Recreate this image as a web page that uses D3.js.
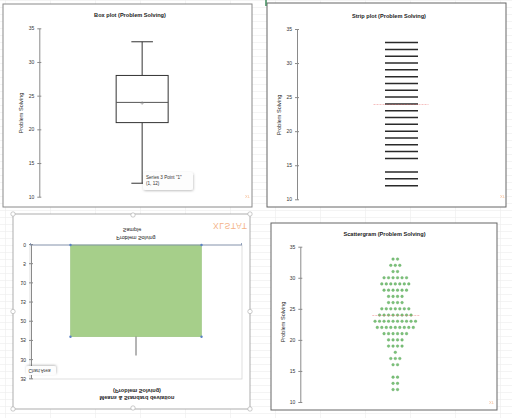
<!DOCTYPE html>
<html><head><meta charset="utf-8">
<script src="https://cdn.jsdelivr.net/npm/d3@7"></script>
<style>body{margin:0;background:#fff}svg{display:block;font-family:"Liberation Sans",Arial,sans-serif}</style>
</head><body><svg id="c" width="512" height="418"></svg>
<script>
// ---------- data ----------
const category = ["Problem Solving"];
const yTicks = [10, 15, 20, 25, 30, 35];
const meanTicks = [0, 5, 10, 15, 20, 25, 30, 35];
const boxKeys = ["min", "q1", "median", "q3", "max"];
const boxValues = [12, 21, 24, 28, 33];
const meanValue = [23.9];
const sdValue = [4.9];
const stripValues = [12, 13, 14, 16, 17, 18, 19, 20, 21, 22, 23, 24, 25, 26, 27, 28, 29, 30, 31, 32, 33];
const scatterValues = [33, 32, 31, 30, 29, 28, 27, 26, 25, 24, 23, 22, 21, 20, 19, 18, 17, 16, 14, 13, 12];
const scatterCounts = [2, 3, 2, 6, 7, 6, 4, 4, 7, 8, 10, 9, 6, 4, 4, 1, 3, 2, 2, 2, 2];

const svg = d3.select("#c");
const defs = svg.append("defs");
const f = defs.append("filter").attr("id", "sh").attr("x", "-20%").attr("y", "-20%").attr("width", "150%").attr("height", "180%");
f.append("feDropShadow").attr("dx", 0.5).attr("dy", 1).attr("stdDeviation", 1.2).attr("flood-color", "#000").attr("flood-opacity", 0.25);

// faint spreadsheet grid
const grid = svg.append("g").attr("stroke", "#ececec").attr("stroke-width", 0.6);
d3.range(0, 418, 7).forEach(y => grid.append("line").attr("x1", 0).attr("x2", 512).attr("y1", y + 0.5).attr("y2", y + 0.5));
d3.range(0, 512, 45).forEach(x => grid.append("line").attr("y1", 0).attr("y2", 418).attr("x1", x + 5.5).attr("x2", x + 5.5));

function frame(x, y, w, h, stroke) {
  svg.append("rect").attr("x", x).attr("y", y).attr("width", w).attr("height", h)
    .attr("fill", "#fff").attr("stroke", stroke || "#8a8a8a").attr("stroke-width", 1);
}
function title(g, x, y, t) {
  g.append("text").attr("x", x).attr("y", y).attr("text-anchor", "middle").attr("dominant-baseline", "central")
    .attr("font-size", 5.6).attr("font-weight", "bold").attr("fill", "#222").text(t);
}
function yAxis(g, scale, x, ticks) {
  const a = g.append("g").attr("transform", `translate(${x},0)`)
    .call(d3.axisLeft(scale).tickValues(ticks).tickSizeInner(2).tickSizeOuter(0).tickPadding(3));
  a.select(".domain").attr("stroke", "#8a8a8a").attr("stroke-width", 1);
  a.selectAll(".tick line").attr("stroke", "#8a8a8a").attr("x2", 2).attr("x1", -2);
  a.selectAll(".tick text").attr("font-size", 5).attr("fill", "#333").attr("font-family", "Liberation Sans, Arial, sans-serif");
  return a;
}
function yTitle(g, x, y, t) {
  g.append("text").attr("transform", `translate(${x},${y}) rotate(-90)`).attr("text-anchor", "middle")
    .attr("dominant-baseline", "central").attr("font-size", 5.6).attr("fill", "#222").text(t);
}
function logo(g, x, y) {
  g.append("text").attr("x", x).attr("y", y).attr("font-size", 4).attr("fill", "#f3a46c").attr("opacity", 0.8).text("XL");
}

// ---------- panel 1 : box plot ----------
frame(3, 4, 249, 203);
const g1 = svg.append("g");
const y1 = d3.scaleLinear().domain([10, 35]).range([196.7, 28.3]);
const x1 = d3.scalePoint().domain(category).range([39.3, 245]).padding(0.5);
title(g1, 130, 15, "Box plot (Problem Solving)");
yAxis(g1, y1, 39.3, yTicks);
yTitle(g1, 21, 113, "Problem Solving");
const bv = Object.fromEntries(boxKeys.map((k, i) => [k, boxValues[i]]));
const cx1 = x1(category[0]), bw = 52, cw = 21.6;
const bx = g1.append("g").attr("stroke", "#333").attr("stroke-width", 1).attr("fill", "none");
bx.append("line").attr("x1", cx1).attr("x2", cx1).attr("y1", y1(bv.max)).attr("y2", y1(bv.q3));
bx.append("line").attr("x1", cx1).attr("x2", cx1).attr("y1", y1(bv.q1)).attr("y2", y1(bv.min));
bx.append("line").attr("x1", cx1 - cw / 2).attr("x2", cx1 + cw / 2).attr("y1", y1(bv.max)).attr("y2", y1(bv.max));
bx.append("line").attr("x1", cx1 - cw / 2).attr("x2", cx1 + cw / 2).attr("y1", y1(bv.min)).attr("y2", y1(bv.min));
bx.append("rect").attr("x", cx1 - bw / 2).attr("y", y1(bv.q3)).attr("width", bw).attr("height", y1(bv.q1) - y1(bv.q3)).attr("fill", "#fff");
bx.append("line").attr("x1", cx1 - bw / 2).attr("x2", cx1 + bw / 2).attr("y1", y1(bv.median)).attr("y2", y1(bv.median)).attr("stroke", "#555");
const my = y1(meanValue[0]);
g1.append("path").attr("d", `M${cx1 - 1.8},${my}H${cx1 + 1.8}M${cx1},${my - 1.8}V${my + 1.8}`).attr("stroke", "#888").attr("stroke-width", 0.6);
// tooltip
g1.append("rect").attr("x", 143).attr("y", 172).attr("width", 50).attr("height", 18).attr("rx", 2.5)
  .attr("fill", "#fdfdfd").attr("filter", "url(#sh)");
g1.append("text").attr("x", 146).attr("y", 178.5).attr("font-size", 4.6).attr("fill", "#333").text("Series 3 Point \"1\"");
g1.append("text").attr("x", 146).attr("y", 185).attr("font-size", 4.6).attr("fill", "#333").text("(1, 12)");
logo(g1, 245, 198);

// ---------- panel 2 : strip plot ----------
frame(267, 3, 239, 204, "#666");
svg.append("line").attr("x1", 266).attr("x2", 266).attr("y1", 0).attr("y2", 6).attr("stroke", "#3c8a5a").attr("stroke-width", 1.5);
const g2 = svg.append("g");
const y2 = d3.scaleLinear().domain([10, 35]).range([199.3, 29]);
const x2 = d3.scalePoint().domain(category).range([297, 506]).padding(0.5);
title(g2, 389, 16, "Strip plot (Problem Solving)");
yAxis(g2, y2, 297, yTicks);
yTitle(g2, 279, 115, "Problem Solving");
const cx2 = x2(category[0]), sw = 33;
g2.selectAll("line.s").data(stripValues).join("line").attr("class", "s")
  .attr("x1", cx2 - sw / 2).attr("x2", cx2 + sw / 2).attr("y1", d => y2(d)).attr("y2", d => y2(d))
  .attr("stroke", "#2a2a2a").attr("stroke-width", 1.5);
g2.append("line").attr("x1", cx2 - 28).attr("x2", cx2 + 27).attr("y1", y2(meanValue[0])).attr("y2", y2(meanValue[0]))
  .attr("stroke", "#e86a6a").attr("stroke-width", 0.6).attr("stroke-dasharray", "2,1").attr("opacity", 0.8);
logo(g2, 500, 198);

// ---------- panel 3 : means & sd (vertically mirrored) ----------
const g3 = svg.append("g").attr("transform", "translate(0,623) scale(1,-1)");
g3.append("rect").attr("x", 13).attr("y", 214).attr("width", 237).attr("height", 195).attr("fill", "#fff").attr("stroke", "#9a9a9a").attr("stroke-width", 0.8);
g3.append("rect").attr("x", 30).attr("y", 244).attr("width", 212).attr("height", 134).attr("fill", "none").attr("stroke", "#d6d6d6").attr("stroke-width", 0.8);
const y3 = d3.scaleLinear().domain([0, 35]).range([378, 243.7]);
const x3 = d3.scaleBand().domain(category).range([30, 242]).paddingInner(0).paddingOuter(0.309);
const a3 = yAxis(g3, y3, 31, meanTicks);
a3.selectAll(".tick text").attr("dominant-baseline", "central").attr("dy", null);
g3.append("text").attr("x", 137).attr("y", 224.7).attr("text-anchor", "middle").attr("dominant-baseline", "central")
  .attr("font-size", 5.6).attr("font-weight", "bold").attr("fill", "#222").text("Means & Standard deviation");
g3.append("text").attr("x", 137).attr("y", 231.7).attr("text-anchor", "middle").attr("dominant-baseline", "central")
  .attr("font-size", 5.6).attr("font-weight", "bold").attr("fill", "#222").text("(Problem Solving)");
g3.append("rect").attr("x", x3(category[0])).attr("y", y3(meanValue[0])).attr("width", x3.bandwidth())
  .attr("height", y3(0) - y3(meanValue[0])).attr("fill", "#a6cf8a").attr("stroke", "#8fbd75").attr("stroke-width", 0.5);
const cx3 = x3(category[0]) + x3.bandwidth() / 2;
g3.append("line").attr("x1", cx3).attr("x2", cx3).attr("y1", y3(meanValue[0])).attr("y2", y3(meanValue[0] + sdValue[0]))
  .attr("stroke", "#444").attr("stroke-width", 0.8);
// category axis at 0
g3.append("line").attr("x1", 30).attr("x2", 242).attr("y1", y3(0)).attr("y2", y3(0)).attr("stroke", "#7d8fae").attr("stroke-width", 0.8);
[30.5, 241.5].forEach(x => g3.append("line").attr("x1", x).attr("x2", x).attr("y1", y3(0)).attr("y2", y3(0) + 2).attr("stroke", "#7d8fae").attr("stroke-width", 0.8));
g3.append("text").attr("x", 136).attr("y", 385).attr("text-anchor", "middle").attr("dominant-baseline", "central")
  .attr("font-size", 5.4).attr("fill", "#222").text(category[0]);
g3.append("text").attr("x", 132).attr("y", 393.3).attr("text-anchor", "middle").attr("dominant-baseline", "central")
  .attr("font-size", 5.4).attr("fill", "#222").text("Sample");
// series selection handles
const bx0 = x3(category[0]), bx1 = bx0 + x3.bandwidth();
[[bx0, y3(0)], [bx1, y3(0)], [bx0, y3(meanValue[0])], [bx1, y3(meanValue[0])]].forEach(([x, y]) =>
  g3.append("circle").attr("cx", x).attr("cy", y).attr("r", 1.2).attr("fill", "#5b82c4"));
// chart area handles
[[13, 214], [133, 215], [250, 214], [13, 311.5], [250, 311.5], [13, 409], [133, 408], [250, 409]].forEach(([x, y]) =>
  g3.append("circle").attr("cx", x).attr("cy", y).attr("r", 2.2).attr("fill", "#fff").attr("stroke", "#aaa").attr("stroke-width", 0.6));
// tooltip & watermark
g3.append("rect").attr("x", 26).attr("y", 248).attr("width", 30).attr("height", 9).attr("rx", 2).attr("fill", "#fdfdfd").attr("filter", "url(#sh)");
g3.append("text").attr("x", 28.5).attr("y", 252.5).attr("dominant-baseline", "central").attr("font-size", 4.6).attr("fill", "#333").text("Chart Area");
g3.append("text").attr("x", 213).attr("y", 397).attr("dominant-baseline", "central").attr("font-size", 8.5)
  .attr("letter-spacing", 0.6).attr("fill", "#f4b387").text("XLSTAT");

// ---------- panel 4 : scattergram ----------
frame(271, 223, 226, 187, "#666");
const g4 = svg.append("g");
const y4 = d3.scaleLinear().domain([10, 35]).range([402, 246.7]);
const x4 = d3.scalePoint().domain(category).range([300.3, 490.3]).padding(0.5);
title(g4, 384.5, 234, "Scattergram (Problem Solving)");
yAxis(g4, y4, 300.3, yTicks);
yTitle(g4, 282.7, 322, "Problem Solving");
const cx4 = x4(category[0]), dx = 4.5;
const pts = [];
scatterValues.forEach((v, i) => {
  const n = scatterCounts[i];
  for (let k = 0; k < n; k++) pts.push({ v, off: (k - (n - 1) / 2) * dx });
});
g4.selectAll("circle").data(pts).join("circle")
  .attr("cx", d => cx4 + d.off).attr("cy", d => y4(d.v)).attr("r", 1.35)
  .attr("fill", "#7cc27a").attr("stroke", "#5aa158").attr("stroke-width", 0.3);
g4.append("line").attr("x1", cx4 - 23).attr("x2", cx4 + 24).attr("y1", y4(meanValue[0])).attr("y2", y4(meanValue[0]))
  .attr("stroke", "#e86a6a").attr("stroke-width", 0.6).attr("stroke-dasharray", "2,1").attr("opacity", 0.8);
logo(g4, 489, 404);
</script></body></html>
